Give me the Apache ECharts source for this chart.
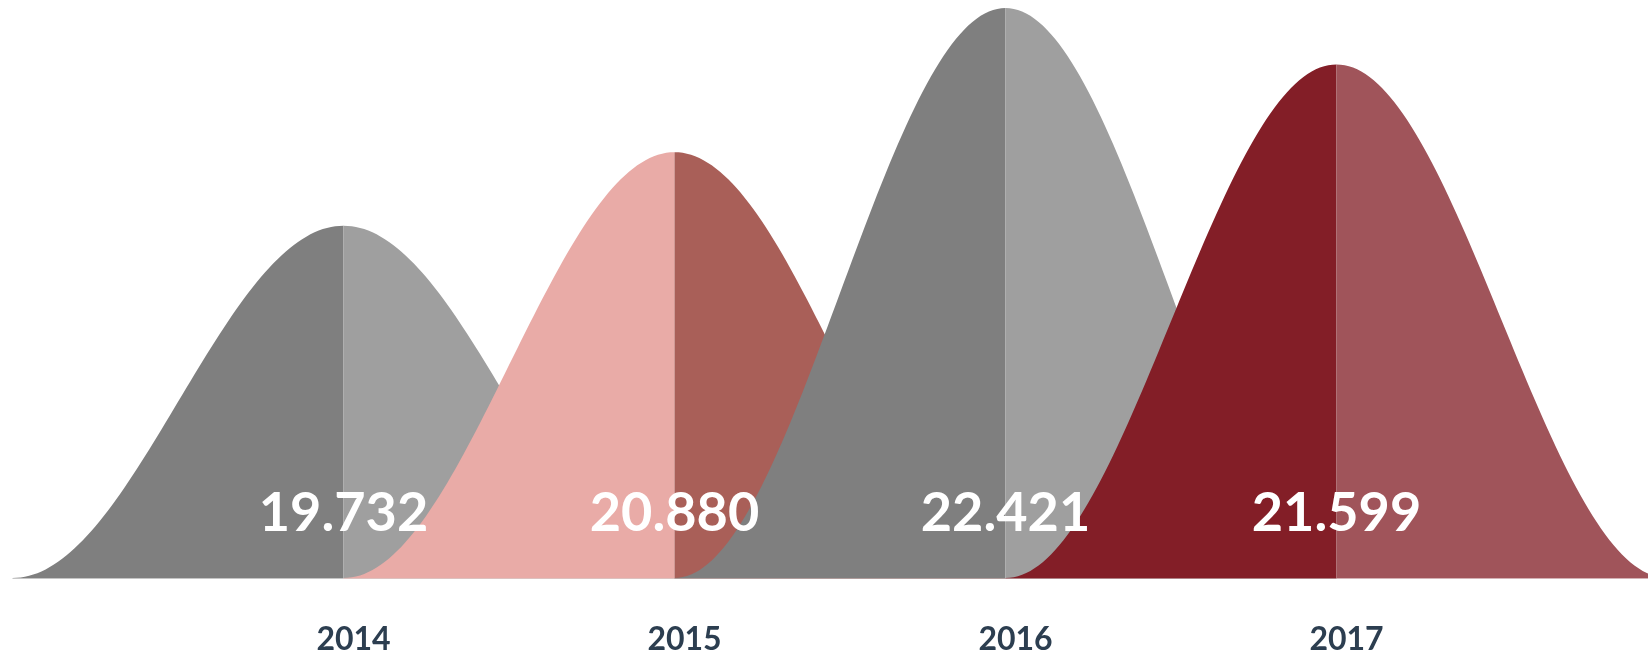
<!DOCTYPE html>
<html>
<head>
<meta charset="utf-8">
<script src="https://cdn.jsdelivr.net/npm/echarts@6/dist/echarts.min.js"></script>
<style>
    html, body { margin: 0; padding: 0; background: #fff; }
    #chart { width: 1648px; height: 657px; }
</style>
</head>
<body>
<div id="chart"></div>
<script>
// categories
var years = ['2014', '2015', '2016', '2017'];
// peak height of each bell (share of the tallest one)
var peakHeights = [61.8, 74.7, 100, 90.1];
// numbers printed on the bells
var valueLabels = ['19.732', '20.880', '22.421', '21.599'];

var leftColors = ['#7f7f7f', '#e9aba7', '#7f7f7f', '#831e27'];
var rightColors = ['#9f9f9f', '#a95f58', '#9f9f9f', '#a0545a'];

var chart = echarts.init(document.getElementById('chart'));

function bellHalf(cx, base, bw, h, dir) {
    // raised cosine half, from the outer edge to the centre
    var pts = [[cx + dir * bw, base]];
    var n = 80;
    for (var k = n; k >= 0; k--) {
        var u = k / n;
        pts.push([cx + dir * bw * u, base - h * (1 + Math.cos(Math.PI * u)) / 2]);
    }
    pts.push([cx, base]);
    return pts;
}

var option = {
    backgroundColor: '#fff',
    animation: false,
    grid: {
        left: 178,
        right: 146,
        top: 8,
        bottom: 79
    },
    xAxis: {
        type: 'category',
        data: years,
        axisLine: { show: false },
        axisTick: { show: false },
        axisLabel: {
            margin: 46,
            padding: [0, 0, 0, 20],
            color: '#2c3e50',
            fontFamily: 'Lato',
            fontWeight: 'bold',
            fontSize: 32
        }
    },
    yAxis: {
        type: 'value',
        min: 0,
        max: 100,
        show: false
    },
    series: [{
        type: 'custom',
        clip: false,
        data: peakHeights.map(function (v, i) { return [i, v]; }),
        renderItem: function (params, api) {
            var i = api.value(0);
            var top = api.coord([i, api.value(1)]);
            var base = api.coord([i, 0])[1];
            var cx = top[0];
            var bw = api.size([1, 0])[0];
            var h = base - top[1];
            return {
                type: 'group',
                children: [{
                    type: 'polygon',
                    z2: i * 4,
                    shape: { points: bellHalf(cx, base, bw, h, -1) },
                    style: { fill: leftColors[i] }
                }, {
                    type: 'polygon',
                    z2: i * 4 + 1,
                    shape: { points: bellHalf(cx, base, bw, h, 1) },
                    style: { fill: rightColors[i] }
                }, {
                    type: 'line',
                    z2: i * 4 + 2,
                    shape: { x1: cx - bw, y1: base + 0.5, x2: cx, y2: base + 0.5 },
                    style: { stroke: leftColors[i], lineWidth: 1, opacity: 0.45 }
                }, {
                    type: 'line',
                    z2: i * 4 + 3,
                    shape: { x1: cx, y1: base + 0.5, x2: cx + bw, y2: base + 0.5 },
                    style: { stroke: rightColors[i], lineWidth: 1, opacity: 0.45 }
                }, {
                    type: 'text',
                    z2: 100,
                    style: {
                        text: valueLabels[i],
                        x: cx,
                        y: base - 64,
                        align: 'center',
                        verticalAlign: 'middle',
                        fill: '#fff',
                        font: 'bold 54px Lato'
                    }
                }]
            };
        }
    }]
};

chart.setOption(option);
window.addEventListener('resize', function () {
    chart.resize();
});
</script>
</body>
</html>
